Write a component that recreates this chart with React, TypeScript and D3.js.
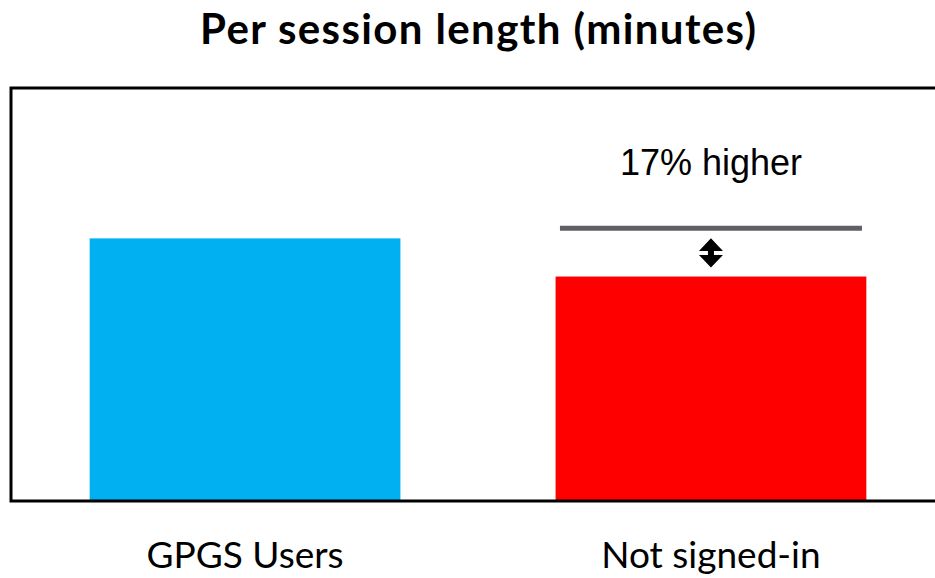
import * as d3 from "d3";

const categories = ["GPGS Users", "Not signed-in"];
const sessionLength = [11.7, 10]; // relative minutes
const barColors = ["#00b0f0", "#ff0000"];
const referenceLevel = 12.15; // grey marker above the red bar
const annotation = "17% higher";
const title = "Per session length (minutes)";

const width = 935;
const height = 578;

export default function App() {
  const x = d3
    .scaleBand<string>()
    .domain(categories)
    .range([12, 944])
    .paddingInner(0.333)
    .paddingOuter(0.1667);
  const y = d3.scaleLinear().domain([0, 18.4]).range([501, 88]);

  const target = categories[1];
  const cx = x(target)! + x.bandwidth() / 2;
  const lineY = y(referenceLevel);
  const barTop = y(sessionLength[1]);

  // double arrow between the grey marker and the red bar
  const a0 = lineY + 10;
  const a1 = barTop - 9;
  const mid = (a0 + a1) / 2;
  const hw = 12;
  const sw = 3;
  const p = d3.path();
  p.moveTo(cx, a0);
  p.lineTo(cx + hw, mid - 2);
  p.lineTo(cx + sw, mid - 2);
  p.lineTo(cx + sw, mid + 2);
  p.lineTo(cx + hw, mid + 2);
  p.lineTo(cx, a1);
  p.lineTo(cx - hw, mid + 2);
  p.lineTo(cx - sw, mid + 2);
  p.lineTo(cx - sw, mid - 2);
  p.lineTo(cx - hw, mid - 2);
  p.closePath();

  return (
    <svg
      width={width}
      height={height}
      style={{ position: "absolute", left: 0, top: 0, background: "#fff" }}
    >
      <text
        x={478}
        y={44}
        textAnchor="middle"
        fontFamily="Lato, 'Open Sans', sans-serif"
        fontWeight="bold"
        fontSize={42}
        textLength={556}
        lengthAdjust="spacing"
        fill="#000"
      >
        {title}
      </text>

      {categories.map((c, i) => (
        <rect
          key={c}
          x={x(c)}
          y={y(sessionLength[i])}
          width={x.bandwidth()}
          height={y(0) - y(sessionLength[i])}
          fill={barColors[i]}
        />
      ))}

      <path d="M 945 88 H 11 V 501 H 945" fill="none" stroke="#000" strokeWidth={3} />

      <line
        x1={cx - 151}
        x2={cx + 151}
        y1={lineY}
        y2={lineY}
        stroke="#5f5f66"
        strokeWidth={5}
      />
      <path d={p.toString()} fill="#000" />
      <text
        x={cx}
        y={175}
        textAnchor="middle"
        fontFamily="'Liberation Sans', Arial, sans-serif"
        fontSize={36}
        fill="#000"
      >
        {annotation}
      </text>

      {categories.map((c) => (
        <text
          key={c}
          x={x(c)! + x.bandwidth() / 2}
          y={568}
          textAnchor="middle"
          fontFamily="Lato, 'Open Sans', sans-serif"
          fontSize={37}
          fill="#000"
        >
          {c}
        </text>
      ))}
    </svg>
  );
}
